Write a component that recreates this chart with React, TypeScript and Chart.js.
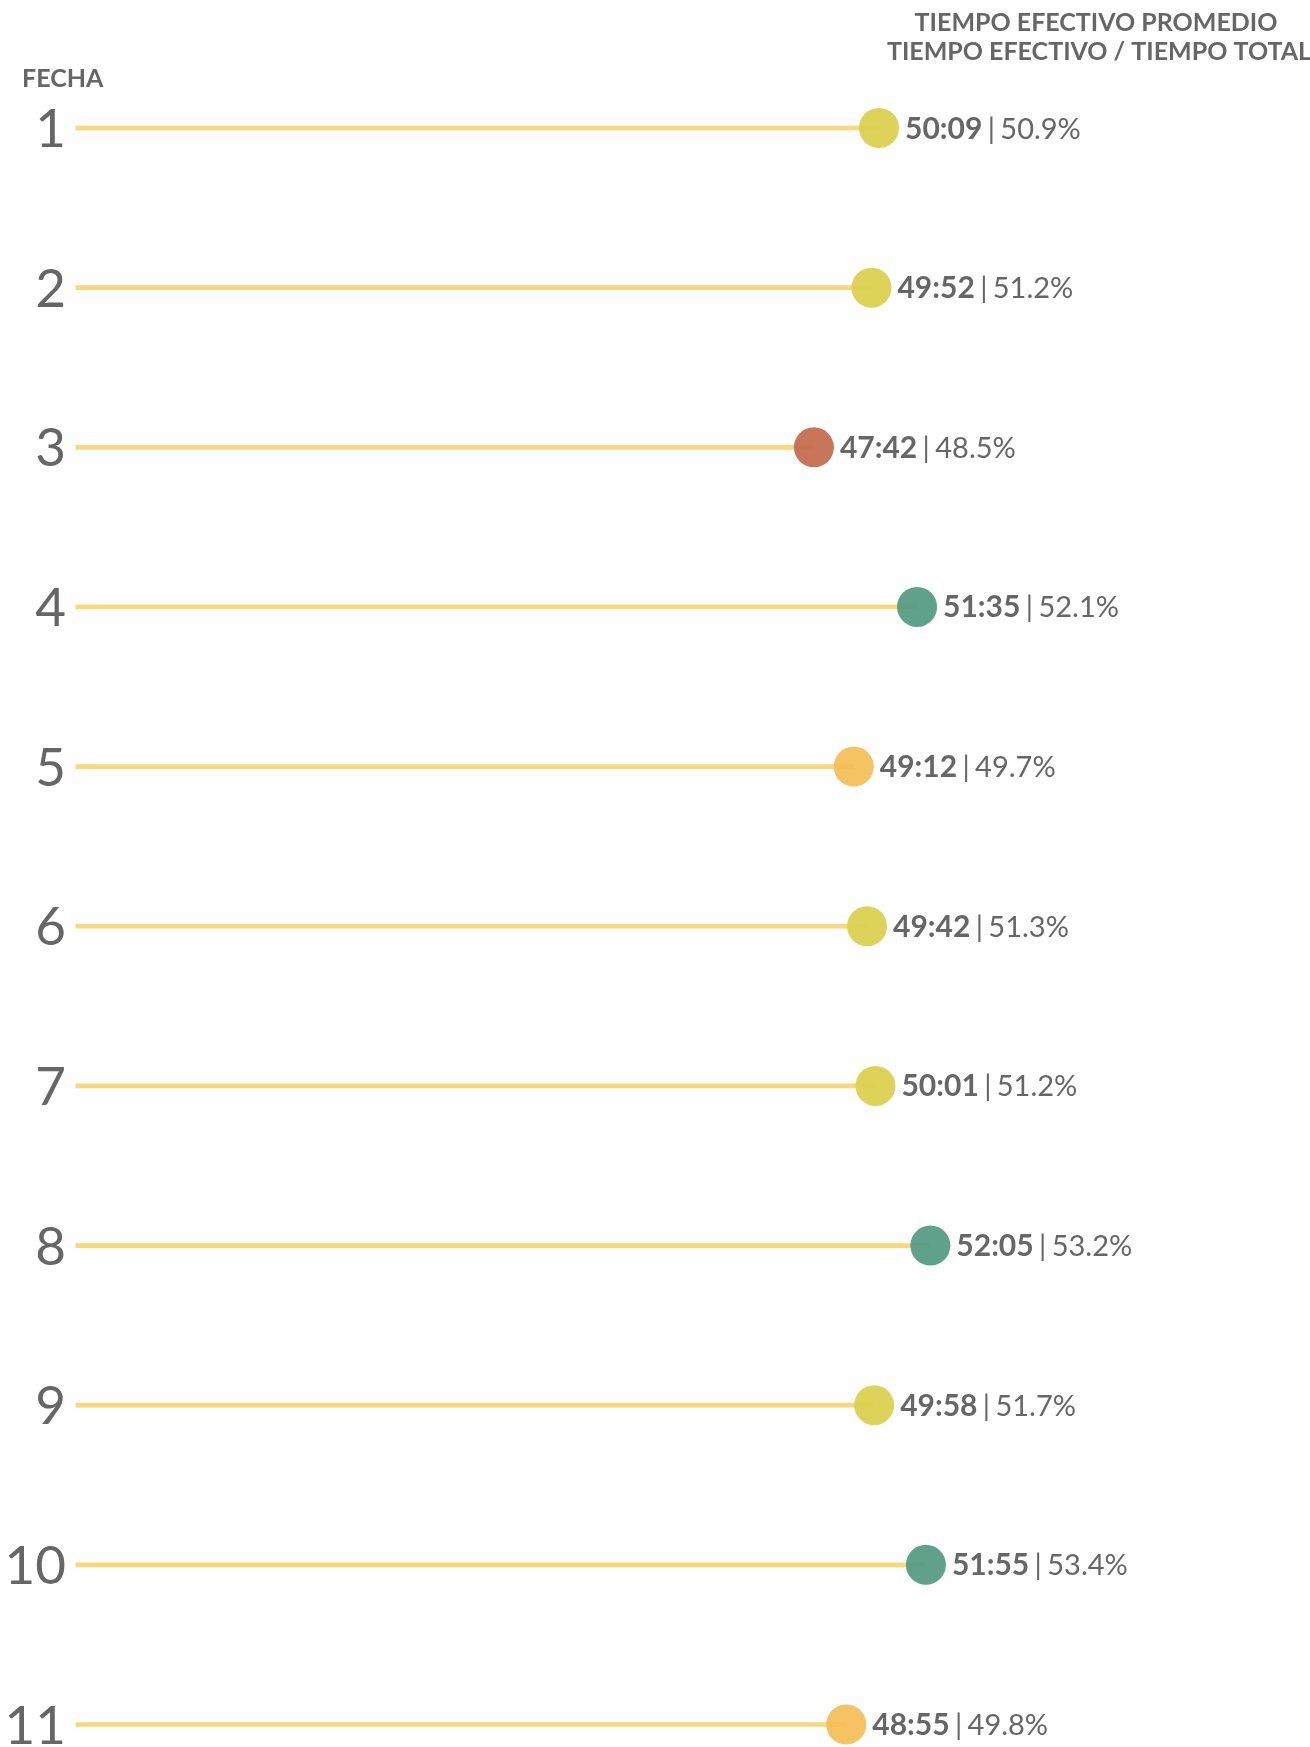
import React, { useEffect, useRef } from "react";
import { Chart, registerables } from "chart.js";

Chart.register(...registerables);

// ---- data ----
const fechas = ["1", "2", "3", "4", "5", "6", "7", "8", "9", "10", "11"];
const tiempoEfectivo = ["50:09", "49:52", "47:42", "51:35", "49:12", "49:42", "50:01", "52:05", "49:58", "51:55", "48:55"];
const porcentajeEfectivo = [50.9, 51.2, 48.5, 52.1, 49.7, 51.3, 51.2, 53.2, 51.7, 53.4, 49.8];
const tituloLineas = ["TIEMPO EFECTIVO PROMEDIO", "TIEMPO EFECTIVO / TIEMPO TOTAL"];
const tituloEje = "FECHA";

const X_MIN = 19.9;
const X_MAX = 66.0;

const toMinutes = (s: string) => {
  const [m, sec] = s.split(":").map(Number);
  return m + sec / 60;
};
const minutos = tiempoEfectivo.map(toMinutes);

const colorFor = (v: number) => {
  if (v >= 51) return "rgba(84,154,131,0.93)";
  if (v >= 49.5) return "rgba(220,208,76,0.93)";
  if (v >= 48) return "rgba(244,190,86,0.93)";
  return "rgba(196,106,80,0.93)";
};

const W = 1310;
const H = 1747;
const TEXT = "#666666";

const labelsPlugin = {
  id: "lollipopLabels",
  afterDatasetsDraw(chart: any) {
    const ctx = chart.ctx;
    const meta = chart.getDatasetMeta(1);
    const yScale = chart.scales.y;
    ctx.save();
    ctx.fillStyle = TEXT;
    ctx.textBaseline = "alphabetic";
    // value labels
    meta.data.forEach((pt: any, i: number) => {
      const x = pt.x + 26;
      const y = pt.y + 10.5;
      ctx.textAlign = "left";
      ctx.font = "bold 30px Lato";
      ctx.fillText(tiempoEfectivo[i], x, y);
      const w = ctx.measureText(tiempoEfectivo[i]).width;
      ctx.font = "29px Lato";
      ctx.textAlign = "center";
      ctx.fillText("|", x + w + 9, y);
      ctx.textAlign = "left";
      ctx.fillText(porcentajeEfectivo[i].toFixed(1) + "%", x + w + 18, y);
    });
    // category labels
    ctx.font = "400 53px Lato";
    ctx.textAlign = "right";
    fechas.forEach((f, i) => {
      const y = yScale.getPixelForValue(i);
      ctx.fillText(f, 66, y + 19);
    });
    // axis title
    ctx.font = "bold 25px Lato";
    ctx.textAlign = "left";
    ctx.fillText(tituloEje, 22, 87);
    // header
    ctx.font = "bold 25px Lato";
    ctx.textAlign = "center";
    ctx.fillText(tituloLineas[0], 1096, 30.5);
    ctx.fillText(tituloLineas[1], 1099, 60);
    ctx.restore();
  },
};

export default function App() {
  const ref = useRef<HTMLCanvasElement>(null);
  useEffect(() => {
    if (!ref.current) return;
    const chart = new Chart(ref.current, {
      type: "bar",
      data: {
        labels: fechas,
        datasets: [
          {
            type: "bar",
            data: minutos,
            base: X_MIN,
            backgroundColor: "#FCD67B",
            barThickness: 4,
            borderWidth: 0,
            clip: { left: 0, right: 30, top: 10, bottom: 10 },
            order: 2,
          } as any,
          {
            type: "line",
            data: minutos,
            showLine: false,
            pointRadius: 20,
            pointHoverRadius: 20,
            pointBackgroundColor: minutos.map(colorFor),
            pointBorderWidth: 0,
            borderWidth: 0,
            clip: false,
            order: 1,
          } as any,
        ],
      },
      options: {
        indexAxis: "y",
        responsive: false,
        animation: false,
        devicePixelRatio: 1,
        layout: { autoPadding: false, padding: { left: 75.5, right: 10, top: 128, bottom: 22.5 } },
        scales: {
          x: { type: "linear", min: X_MIN, max: X_MAX, display: false },
          y: { type: "category", offset: false, display: false },
        },
        plugins: { legend: { display: false }, tooltip: { enabled: false } },
      } as any,
      plugins: [labelsPlugin],
    });
    return () => chart.destroy();
  }, []);
  return (
    <div style={{ position: "absolute", left: 0, top: 0, width: W, height: H, background: "#fff" }}>
      <canvas ref={ref} width={W} height={H} style={{ display: "block" }} />
    </div>
  );
}
